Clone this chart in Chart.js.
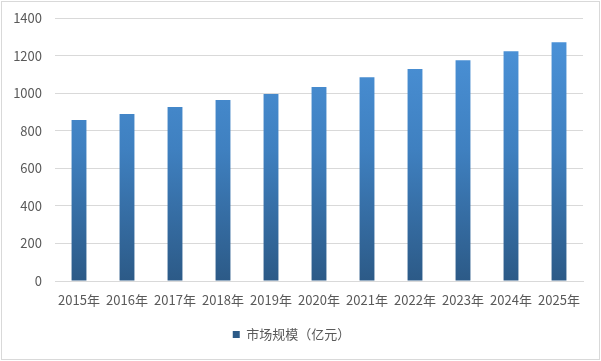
<!DOCTYPE html>
<html>
<head>
<meta charset="utf-8">
<script src="https://cdn.jsdelivr.net/npm/chart.js@4"></script>
<style>
  html, body { margin: 0; padding: 0; background: #fff; }
  #wrap { width: 601px; height: 361px; }
</style>
</head>
<body>
<div id="wrap"><canvas id="chart" width="601" height="361"></canvas></div>
<script>
const years = ['2015年', '2016年', '2017年', '2018年', '2019年', '2020年', '2021年', '2022年', '2023年', '2024年', '2025年'];
const marketSize = [857, 889, 926, 963, 996, 1033, 1085, 1128, 1175, 1223, 1271];
const yTicks = [0, 200, 400, 600, 800, 1000, 1200, 1400];
const seriesName = '市场规模（亿元）';

const fontFamily = '"Noto Sans CJK SC", "Microsoft YaHei", sans-serif';
const ctx = document.getElementById('chart').getContext('2d');

function barGradient(context) {
    const area = context.chart.chartArea;
    if (!area) return '#3f7fbf';
    const g = context.chart.ctx.createLinearGradient(0, area.top, 0, area.bottom);
    g.addColorStop(0, '#4d95dc');
    g.addColorStop(0.5, '#3f80c0');
    g.addColorStop(1, '#2c5a87');
    return g;
}

// light grey frame round the whole picture
const framePlugin = {
    id: 'frame',
    beforeDraw(chart) {
        const c = chart.ctx;
        c.save();
        c.fillStyle = '#fff';
        c.fillRect(0, 0, chart.width, chart.height);
        c.strokeStyle = '#d9d9d9';
        c.lineWidth = 1;
        c.strokeRect(1.5, 1.5, chart.width - 3, chart.height - 3);
        c.restore();
    }
};

const chart = new Chart(ctx, {
    type: 'bar',
    data: {
        labels: years,
        datasets: [{
            label: seriesName,
            data: marketSize,
            backgroundColor: barGradient,
            borderWidth: 0,
            categoryPercentage: 1,
            barPercentage: 0.31
        }]
    },
    options: {
        responsive: false,
        animation: false,
        layout: {
            padding: { left: 0, right: 18, top: 18, bottom: 10 }
        },
        scales: {
            x: {
                grid: { display: false },
                border: { display: true, color: '#d9d9d9' },
                ticks: {
                    color: '#595959',
                    font: { family: fontFamily, size: 13 },
                    maxRotation: 0,
                    autoSkip: false,
                    padding: 3
                },
                afterFit(scale) { scale.height = 41; }
            },
            y: {
                min: 0,
                max: 1400,
                afterBuildTicks(scale) {
                    scale.ticks = yTicks.map(v => ({ value: v }));
                },
                grid: { color: '#d9d9d9', drawTicks: false },
                border: { display: false },
                ticks: {
                    color: '#595959',
                    font: { family: fontFamily, size: 13 },
                    padding: 13,
                    callback: v => String(v)
                },
                afterFit(scale) {
                    scale.width = 55;
                    scale.paddingTop = 0;
                    scale.paddingBottom = 0;
                }
            }
        },
        plugins: {
            legend: {
                position: 'bottom',
                labels: {
                    color: '#595959',
                    font: { family: fontFamily, size: 13 },
                    boxWidth: 7,
                    boxHeight: 7,
                    padding: 6
                }
            },
            tooltip: { enabled: false }
        }
    },
    plugins: [framePlugin]
});
</script>
</body>
</html>
